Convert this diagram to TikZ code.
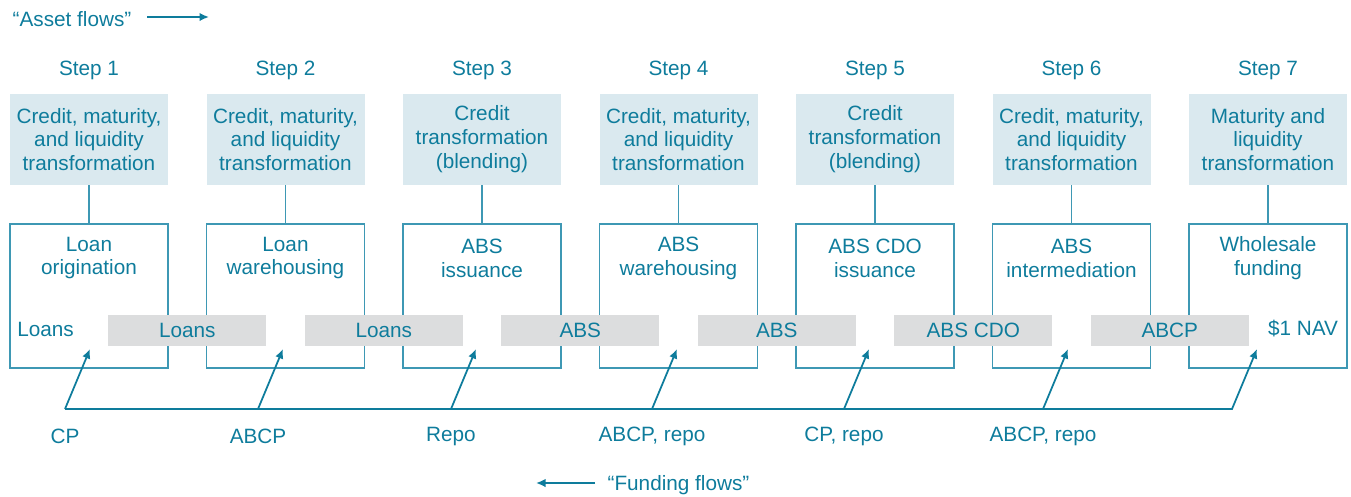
\documentclass[tikz,border=0pt]{standalone}
\usepackage{fontspec}
\setmainfont{Liberation Sans}
\usetikzlibrary{arrows.meta}
\definecolor{flowteal}{RGB}{14,124,156}
\definecolor{edgeteal}{RGB}{62,152,180}
\definecolor{taskblue}{RGB}{218,233,239}
\definecolor{pipegray}{RGB}{220,221,222}

\begin{document}
\begin{tikzpicture}[font=\fontsize{11.8}{13.6}\selectfont, text=flowteal,
	task/.style={fill=taskblue, minimum width=3.16cm, minimum height=1.82cm, align=center, inner sep=0pt},
	unit/.style={draw=edgeteal, line width=0.6pt, minimum width=3.16cm, minimum height=2.88cm},
	pipe/.style={fill=pipegray, minimum width=3.16cm, minimum height=0.62cm, inner sep=0pt},
	flow/.style={draw=flowteal, line width=1pt, -{Latex[length=1.9mm,width=1.7mm]}}]
\useasboundingbox (0,0) rectangle (27.02,-9.92);
\node (assetflows) at (1.44,-0.38) {``Asset flows''};
\coordinate (assetstart) at (2.94,-0.34);
\coordinate (assetend) at (4.18,-0.34);
\draw[flow] (assetstart) -- (assetend);
\foreach \i/\task/\unit [evaluate=\i as \x using 1.78+3.93*(\i-1)] in {
	1/{Credit, maturity,\\and liquidity\\transformation}/{Loan\\origination},
	2/{Credit, maturity,\\and liquidity\\transformation}/{Loan\\warehousing},
	3/{Credit\\transformation\\(blending)}/{ABS\\issuance},
	4/{Credit, maturity,\\and liquidity\\transformation}/{ABS\\warehousing},
	5/{Credit\\transformation\\(blending)}/{ABS CDO\\issuance},
	6/{Credit, maturity,\\and liquidity\\transformation}/{ABS\\intermediation},
	7/{Maturity and\\liquidity\\transformation}/{Wholesale\\funding}}{
	\node (step\i) at (\x,-1.40) {Step \i};
	\node[task] (task\i) at (\x,-2.79) {\task};
	\node[unit] (unit\i) at (\x,-5.92) {};
	\node[align=center] (title\i) at (\x,-5.16) {\unit};
	\draw[edgeteal, line width=0.8pt] (task\i) -- (unit\i);
}
\foreach \j/\what [evaluate=\j as \x using 1.78+3.93*(\j-0.5)] in {1/Loans,2/Loans,3/ABS,4/ABS,5/ABS CDO,6/ABCP}
	\node[pipe] (pipe\j) at (\x,-6.61) {\what};
\node (loans) at (0.91,-6.58) {Loans};
\node (nav) at (26.06,-6.58) {\$1 NAV};
\foreach \k/\t in {1/1.80,2/5.66,3/9.52,4/13.54,5/17.38,6/21.36,7/25.14}{
	\coordinate (tip\k) at (\t,-6.98);
	\coordinate (src\k) at (\t-0.5,-8.18);
}
\draw[flow] (src1) -- (src7) -- (tip7);
\foreach \k/\how in {1/CP,2/ABCP,3/Repo,4/{ABCP, repo},5/{CP, repo},6/{ABCP, repo}}{
	\draw[flow] (src\k) -- (tip\k);
	\node (fund\k) at ([yshift=-0.55cm]src\k) {\how};
}
\node (fundflows) at (13.57,-9.7) {``Funding flows''};
\coordinate (fundtail) at (11.9,-9.66);
\coordinate (fundhead) at (10.72,-9.66);
\draw[flow] (fundtail) -- (fundhead);
\end{tikzpicture}
\end{document}
